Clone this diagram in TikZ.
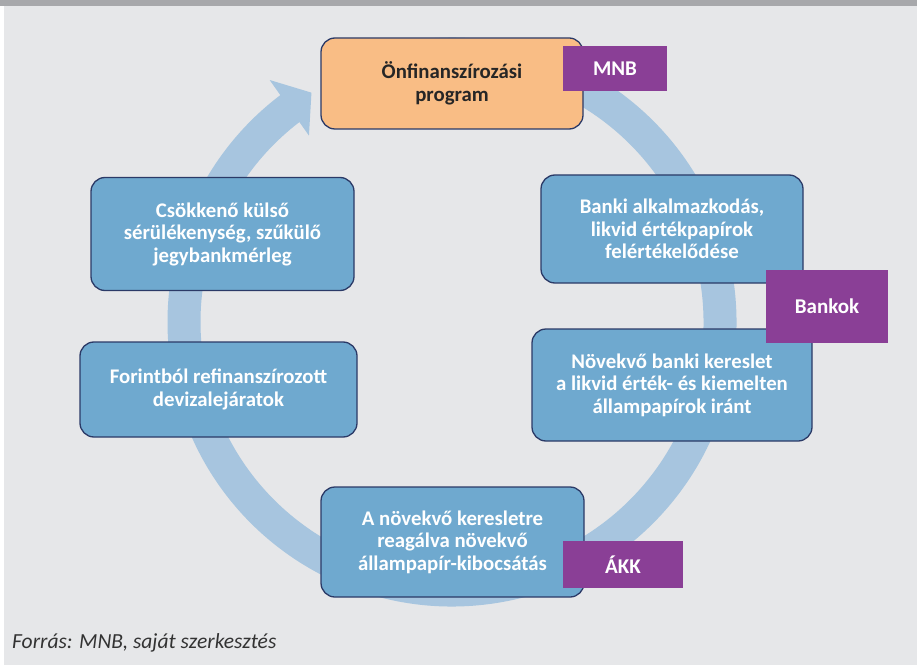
\documentclass[tikz,border=0pt]{standalone}
\usepackage{fontspec}
\setmainfont{Carlito}
\definecolor{bgc}{HTML}{E6E7E9}
\definecolor{barc}{HTML}{A7A8AB}
\definecolor{ringc}{HTML}{A7C5DF}
\definecolor{boxc}{HTML}{6FA9CF}
\definecolor{orangec}{HTML}{F9BD85}
\definecolor{purplec}{HTML}{8A3F96}
\definecolor{edgec}{HTML}{2B3A67}
\definecolor{footc}{HTML}{333333}
\tikzset{
  stepbox/.style={draw=edgec, line width=1.3pt, rounded corners=14pt, fill=boxc,
    text=white, align=center, inner sep=0pt,
    font=\fontsize{20.8}{22.5}\selectfont\bfseries},
  startbox/.style={stepbox, fill=orangec, text=black!85},
  actor/.style={fill=purplec, text=white, align=center, inner sep=0pt,
    font=\fontsize{21}{22.5}\selectfont\bfseries},
  ringline/.style={ringc, line width=33pt},
}
\begin{document}
\begin{tikzpicture}[x=1pt,y=1pt]
\useasboundingbox (0,0) rectangle (917,665);
\fill[white] (0,0) rectangle (917,665);
\fill[bgc] (4,0) rectangle (917,659);
\fill[barc] (0,659) rectangle (917,665);
% cycle ring
\coordinate (C) at (452,343);
\draw[ringline] ([shift={(97:268)}]C) arc[start angle=97, end angle=-233, radius=268];
\fill[ringc] ([shift={(127:303)}]C) -- ([shift={(121.5:269)}]C) -- ([shift={(127.5:235)}]C) -- cycle;
% boxes
\node[startbox, minimum width=262pt, minimum height=91pt] (prog) at (452,581.5) {Önfinanszírozási\\program};
\node[stepbox, minimum width=262pt, minimum height=108pt] (banki) at (672,436) {Banki alkalmazkodás,\\likvid értékpapírok\\felértékelődése};
\node[stepbox, minimum width=280pt, minimum height=112pt] (kereslet) at (672,280) {Növekvő banki kereslet\\a likvid érték- és kiemelten\\állampapírok iránt};
\node[stepbox, minimum width=263pt, minimum height=110pt] (kibocs) at (452.5,123) {A növekvő keresletre\\reagálva növekvő\\állampapír-kibocsátás};
\node[stepbox, minimum width=277pt, minimum height=95pt] (forint) at (218.5,275.5) {Forintból refinanszírozott\\devizalejáratok};
\node[stepbox, minimum width=263pt, minimum height=113pt] (csokk) at (222.5,431) {Csökkenő külső\\sérülékenység, szűkülő\\jegybankmérleg};
% actors
\node[actor, minimum width=104pt, minimum height=45pt] (mnb) at (615,596.5) {MNB};
\node[actor, minimum width=122pt, minimum height=73pt] (bankok) at (827,358.5) {Bankok};
\node[actor, minimum width=120pt, minimum height=47pt] (akk) at (623,100.5) {ÁKK};
% source
\node[anchor=base west, inner sep=0pt, text=footc, font=\fontsize{21.5}{24}\selectfont\itshape] (src) at (12,17) {Forrás: MNB, saját szerkesztés};
\end{tikzpicture}
\end{document}
